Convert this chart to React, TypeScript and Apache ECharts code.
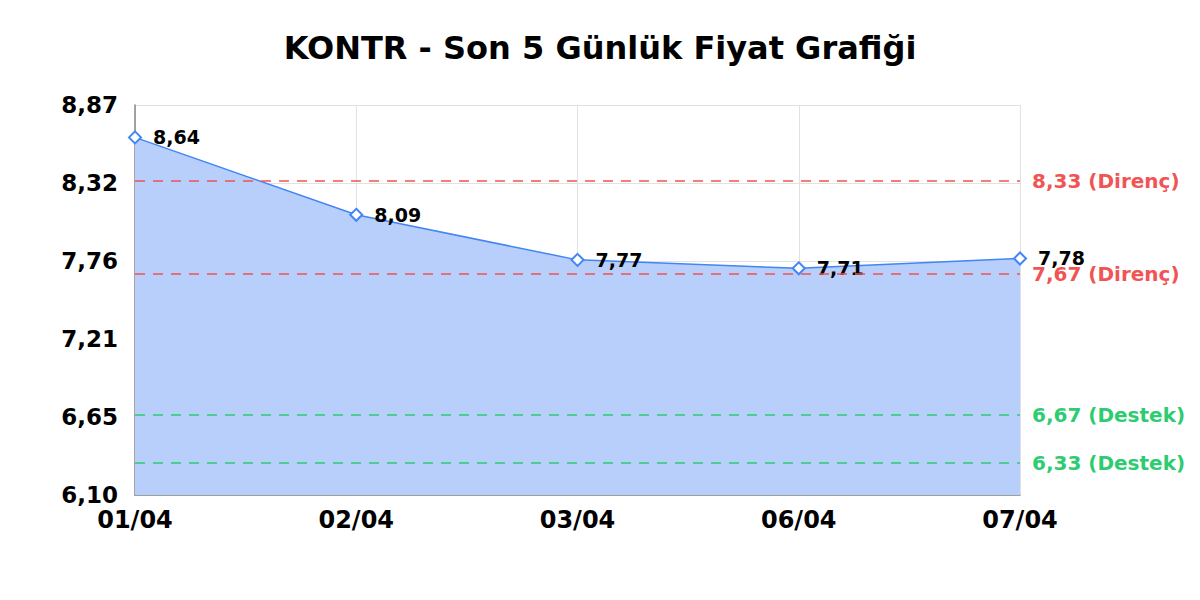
import React, { useEffect, useRef } from 'react';
import * as echarts from 'echarts';

const days = ['01/04', '02/04', '03/04', '06/04', '07/04'];
const prices = [8.64, 8.09, 7.77, 7.71, 7.78];
const yTicks = [6.1, 6.654, 7.208, 7.762, 8.316, 8.87];
const resistance = [8.33, 7.67];
const support = [6.67, 6.33];

const fmt = (v: number) => v.toFixed(2).replace('.', ',');

const RED = '#f05454';
const GREEN = '#2ecc71';

const levelLine = (value: number, label: string, color: string) => ({
    yAxis: value,
    lineStyle: { color, type: [10, 8], width: 1.5 },
    label: {
        show: true,
        position: 'end',
        formatter: `${fmt(value)} (${label})`,
        color,
        fontWeight: 'bold',
        fontSize: 20,
        distance: 12,
    },
});

const App = () => {
    const chartRef = useRef(null);

    useEffect(() => {
        const myChart = echarts.init(chartRef.current, null, { renderer: 'svg' });

        myChart.setOption({
            animation: false,
            textStyle: { fontFamily: 'DejaVu Sans' },
            title: {
                text: 'KONTR - Son 5 Günlük Fiyat Grafiği',
                left: 'center',
                top: 27,
                textStyle: { fontSize: 32, fontWeight: 'bold', color: '#000' },
            },
            grid: { left: 135, right: 180, top: 105, bottom: 105 },
            xAxis: {
                type: 'category',
                data: days,
                boundaryGap: false,
                axisLine: { lineStyle: { color: '#888', width: 1.5 } },
                axisTick: { show: false },
                axisLabel: { color: '#000', fontWeight: 'bold', fontSize: 24, margin: 13 },
                splitLine: { show: true, lineStyle: { color: '#e2e2e2' } },
            },
            yAxis: {
                type: 'value',
                min: 6.1,
                max: 8.87,
                axisLine: { show: true, lineStyle: { color: '#888', width: 1.5 } },
                axisTick: { show: false, customValues: yTicks },
                axisLabel: {
                    customValues: yTicks,
                    color: '#000',
                    fontWeight: 'bold',
                    fontSize: 23,
                    margin: 17,
                    formatter: (v: number) => fmt(v),
                },
                splitLine: { show: true, lineStyle: { color: '#e2e2e2' } },
            },
            series: [
                {
                    type: 'line',
                    data: prices,
                    symbol: 'emptyDiamond',
                    symbolSize: 12,
                    lineStyle: { color: '#4285f4', width: 1.5 },
                    itemStyle: { color: '#4285f4', borderWidth: 2.5 },
                    areaStyle: { color: '#b7cffa', opacity: 1 },
                    label: {
                        show: true,
                        position: 'right',
                        distance: 11,
                        color: '#000',
                        fontWeight: 'bold',
                        fontSize: 19,
                        formatter: (p: any) => fmt(p.value),
                    },
                    markLine: {
                        silent: true,
                        symbol: 'none',
                        data: [
                            ...resistance.map((v) => levelLine(v, 'Direnç', RED)),
                            ...support.map((v) => levelLine(v, 'Destek', GREEN)),
                        ],
                    },
                },
            ],
        });

        return () => {
            myChart.dispose();
        };
    }, []);

    return <div ref={chartRef} style={{ width: '1200px', height: '600px', margin: '-8px' }} />;
};

export default App;
